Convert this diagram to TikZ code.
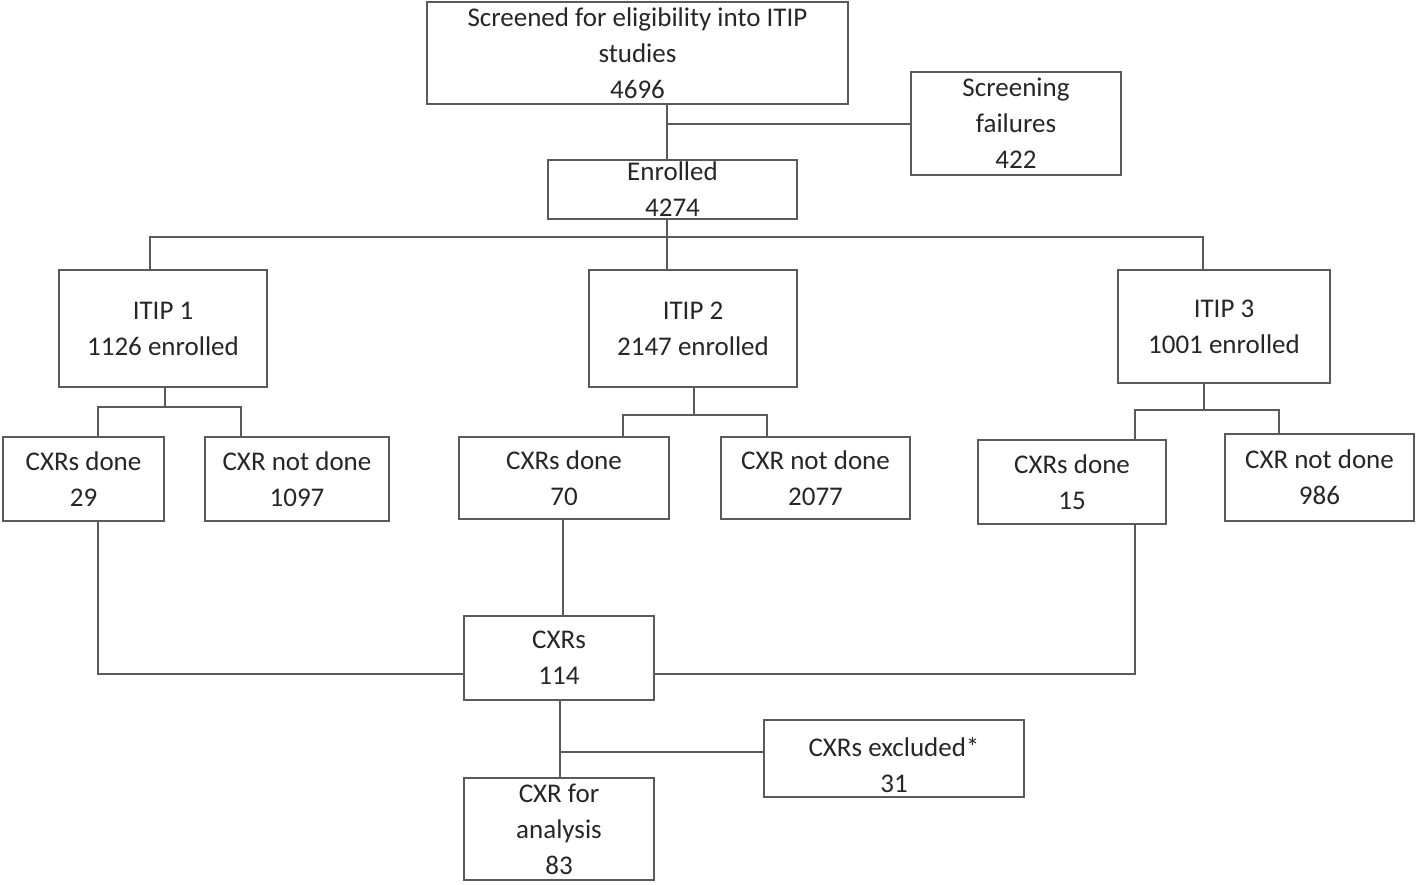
\documentclass[tikz,border=0pt]{standalone}
\usepackage{fontspec}
\setmainfont{Carlito}
\definecolor{linec}{HTML}{5A5A5A}
\definecolor{textc}{HTML}{262626}
\begin{document}
\begin{tikzpicture}[x=1pt,y=-1pt,
  box/.style={draw=linec, line width=1.4pt, rectangle, inner sep=0pt, align=center,
    text=textc, font=\fontsize{27}{36}\selectfont},
  conn/.style={draw=linec, line width=1.3pt}]
\useasboundingbox (0,0) rectangle (1416,884);
% boxes
\node[box, minimum width=421pt, minimum height=102pt] (scr) at (637.5,53) {Screened for eligibility into ITIP\\studies\\4696};
\node[box, minimum width=210pt, minimum height=103pt] (fail) at (1016,123.5) {Screening\\failures\\422};
\node[box, minimum width=249pt, minimum height=59pt] (enr) at (672.5,189.5) {Enrolled\\4274};
\node[box, minimum width=208pt, minimum height=117pt] (it1) at (163,328.5) {ITIP 1\\1126 enrolled};
\node[box, minimum width=208pt, minimum height=117pt] (it2) at (693,328.5) {ITIP 2\\2147 enrolled};
\node[box, minimum width=212pt, minimum height=113pt] (it3) at (1224,326.5) {ITIP 3\\1001 enrolled};
\node[box, minimum width=161pt, minimum height=84pt] (d1) at (83.5,479) {CXRs done\\29};
\node[box, minimum width=184pt, minimum height=84pt] (n1) at (297,479) {CXR not done\\1097};
\node[box, minimum width=210pt, minimum height=82pt] (d2) at (564,478) {CXRs done\\70};
\node[box, minimum width=189pt, minimum height=82pt] (n2) at (815.5,478) {CXR not done\\2077};
\node[box, minimum width=188pt, minimum height=84pt] (d3) at (1072,482) {CXRs done\\15};
\node[box, minimum width=189pt, minimum height=87pt] (n3) at (1319.5,477.5) {CXR not done\\986};
\node[box, minimum width=190pt, minimum height=84pt] (cxr) at (559,658) {CXRs\\114};
\node[box, minimum width=260pt, minimum height=77pt] (exc) at (894,758.5) {\rule{0pt}{32pt}CXRs excluded*\\31};
\node[box, minimum width=190pt, minimum height=102pt] (ana) at (559,829) {CXR for\\analysis\\83};
% junction coordinates
\coordinate (j1) at (667,124);
\coordinate (j2) at (667,237);
\coordinate (j2a) at (150,237);
\coordinate (j2b) at (1203,237);
\coordinate (k1) at (165,407);
\coordinate (k1l) at (98,407);
\coordinate (k1r) at (241,407);
\coordinate (k2) at (694,415);
\coordinate (k2l) at (623,415);
\coordinate (k2r) at (767,415);
\coordinate (k3) at (1204,410);
\coordinate (k3l) at (1135,410);
\coordinate (k3r) at (1279,410);
\coordinate (m1) at (98,674);
\coordinate (m2) at (563,600);
\coordinate (m3) at (1135,674);
\coordinate (p) at (560,752);
% connectors
\draw[conn] (j1 |- scr.south) -- (j1 |- enr.north);
\draw[conn] (j1) -- (j1 -| fail.west);
\draw[conn] (j2 |- enr.south) -- (j2 |- it2.north);
\draw[conn] (j2a |- it1.north) -- (j2a) -- (j2b) -- (j2b |- it3.north);
\draw[conn] (k1 |- it1.south) -- (k1);
\draw[conn] (k1l |- d1.north) -- (k1l) -- (k1r) -- (k1r |- n1.north);
\draw[conn] (k2 |- it2.south) -- (k2);
\draw[conn] (k2l |- d2.north) -- (k2l) -- (k2r) -- (k2r |- n2.north);
\draw[conn] (k3 |- it3.south) -- (k3);
\draw[conn] (k3l |- d3.north) -- (k3l) -- (k3r) -- (k3r |- n3.north);
\draw[conn] (m1 |- d1.south) -- (m1) -- (m1 -| cxr.west);
\draw[conn] (m2 |- d2.south) -- (m2 |- cxr.north);
\draw[conn] (m3 |- d3.south) -- (m3) -- (m3 -| cxr.east);
\draw[conn] (p |- cxr.south) -- (p |- ana.north);
\draw[conn] (p) -- (p -| exc.west);
\end{tikzpicture}
\end{document}
